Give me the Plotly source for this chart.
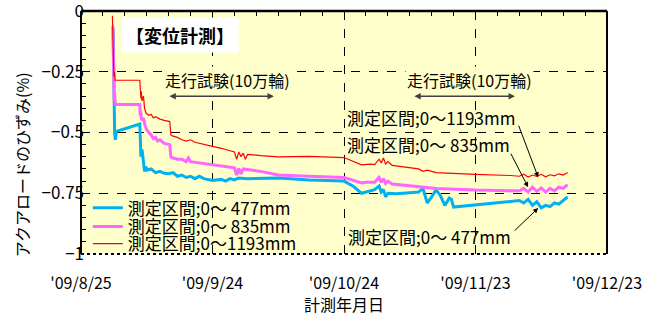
import plotly.graph_objects as go

FONT = "Noto Sans CJK JP"

# ---------------- data ----------------
blue_name = "測定区間;0〜 477mm"
pink_name = "測定区間;0〜 835mm"
red_name = "測定区間;0〜1193mm"

blue_x = ["2009-09-01 08:00", "2009-09-01 12:00", "2009-09-01 16:00", "2009-09-01 20:00", "2009-09-02 02:00",
          "2009-09-07 10:00", "2009-09-07 12:00", "2009-09-07 14:00", "2009-09-07 16:00", "2009-09-07 22:00",
          "2009-09-08 06:00", "2009-09-08 12:00", "2009-09-08 20:00", "2009-09-09", "2009-09-10",
          "2009-09-11", "2009-09-12", "2009-09-13", "2009-09-14", "2009-09-15", "2009-09-16", "2009-09-17",
          "2009-09-18", "2009-09-19", "2009-09-20", "2009-09-21", "2009-09-22", "2009-09-23", "2009-09-24",
          "2009-09-26", "2009-09-27", "2009-09-28", "2009-09-29", "2009-09-30", "2009-10-02", "2009-10-09",
          "2009-10-16", "2009-10-24", "2009-10-26", "2009-10-28", "2009-10-29", "2009-10-30", "2009-10-31",
          "2009-11-01", "2009-11-01 12:00", "2009-11-02", "2009-11-02 12:00", "2009-11-03", "2009-11-05",
          "2009-11-08", "2009-11-10", "2009-11-11", "2009-11-11 12:00", "2009-11-12", "2009-11-13",
          "2009-11-14", "2009-11-15", "2009-11-16", "2009-11-17", "2009-11-17 12:00", "2009-11-18",
          "2009-12-03", "2009-12-04", "2009-12-05", "2009-12-06", "2009-12-07", "2009-12-08", "2009-12-09",
          "2009-12-10", "2009-12-11", "2009-12-12", "2009-12-13", "2009-12-14"]
blue_y = [-0.07, -0.35, -0.50, -0.53, -0.495,
          -0.465, -0.58, -0.52, -0.60, -0.57,
          -0.62, -0.66, -0.64, -0.655, -0.65,
          -0.665, -0.66, -0.668, -0.67, -0.665, -0.68, -0.675,
          -0.685, -0.68, -0.69, -0.68, -0.69, -0.695, -0.697,
          -0.693, -0.70, -0.69, -0.695, -0.687, -0.69, -0.687,
          -0.695, -0.70, -0.72, -0.75, -0.745, -0.74, -0.735,
          -0.72, -0.745, -0.735, -0.765, -0.75, -0.752,
          -0.748, -0.745, -0.73, -0.76, -0.79, -0.765,
          -0.735, -0.76, -0.80, -0.77, -0.775, -0.807,
          -0.78, -0.79, -0.775, -0.80, -0.785, -0.81, -0.80,
          -0.805, -0.79, -0.795, -0.78, -0.765]

pink_x = ["2009-09-01 06:00", "2009-09-01 10:00", "2009-09-01 14:00", "2009-09-01 16:00", "2009-09-01 20:00",
          "2009-09-07 10:00", "2009-09-07 12:00", "2009-09-07 14:00", "2009-09-07 20:00", "2009-09-08 06:00",
          "2009-09-08 14:00", "2009-09-09", "2009-09-09 12:00", "2009-09-10", "2009-09-10 12:00",
          "2009-09-11", "2009-09-11 12:00", "2009-09-12", "2009-09-13", "2009-09-14 06:00",
          "2009-09-14 12:00", "2009-09-15", "2009-09-16", "2009-09-17", "2009-09-18", "2009-09-18 12:00",
          "2009-09-19", "2009-09-21", "2009-09-24", "2009-09-27", "2009-09-29", "2009-09-29 12:00",
          "2009-09-30", "2009-09-30 12:00", "2009-10-01", "2009-10-05", "2009-10-09", "2009-10-16",
          "2009-10-24", "2009-10-28", "2009-10-29", "2009-10-31", "2009-11-01", "2009-11-01 12:00",
          "2009-11-02", "2009-11-02 12:00", "2009-11-03", "2009-11-04", "2009-11-06", "2009-11-08",
          "2009-11-10", "2009-11-14", "2009-11-23", "2009-12-03", "2009-12-04", "2009-12-05",
          "2009-12-06", "2009-12-07", "2009-12-08", "2009-12-09", "2009-12-10", "2009-12-11",
          "2009-12-12", "2009-12-13", "2009-12-14"]
pink_y = [-0.06, -0.30, -0.37, -0.34, -0.385,
          -0.385, -0.43, -0.41, -0.45, -0.44,
          -0.47, -0.49, -0.50, -0.51, -0.525,
          -0.52, -0.535, -0.53, -0.545, -0.55,
          -0.60, -0.605, -0.61, -0.61, -0.62, -0.605,
          -0.62, -0.625, -0.63, -0.64, -0.645, -0.675,
          -0.648, -0.67, -0.65, -0.66, -0.675, -0.68,
          -0.685, -0.708, -0.705, -0.705, -0.685, -0.705,
          -0.69, -0.71, -0.70, -0.712, -0.715, -0.72,
          -0.722, -0.73, -0.737, -0.74, -0.73, -0.745,
          -0.725, -0.742, -0.728, -0.745, -0.73, -0.74,
          -0.725, -0.73, -0.715]

red_x = ["2009-09-01 04:00", "2009-09-01 08:00", "2009-09-01 12:00", "2009-09-01 15:00", "2009-09-01 19:00",
         "2009-09-07 10:00", "2009-09-07 12:00", "2009-09-07 14:00", "2009-09-07 16:00", "2009-09-07 18:00",
         "2009-09-07 22:00", "2009-09-08 06:00", "2009-09-08 12:00", "2009-09-08 20:00", "2009-09-09 12:00",
         "2009-09-10", "2009-09-10 12:00", "2009-09-11", "2009-09-12", "2009-09-13", "2009-09-14 06:00",
         "2009-09-14 12:00", "2009-09-15", "2009-09-16", "2009-09-17", "2009-09-18", "2009-09-19",
         "2009-09-20", "2009-09-22", "2009-09-24", "2009-09-26", "2009-09-28", "2009-09-29",
         "2009-09-29 12:00", "2009-09-30", "2009-09-30 12:00", "2009-10-01", "2009-10-01 12:00",
         "2009-10-02", "2009-10-05", "2009-10-09", "2009-10-16", "2009-10-24", "2009-10-28",
         "2009-10-30", "2009-10-31", "2009-11-01", "2009-11-01 12:00", "2009-11-02", "2009-11-02 12:00",
         "2009-11-03", "2009-11-04", "2009-11-06", "2009-11-08", "2009-11-10", "2009-11-11",
         "2009-11-12", "2009-11-14", "2009-11-16", "2009-11-23", "2009-12-01", "2009-12-03",
         "2009-12-04", "2009-12-05", "2009-12-06", "2009-12-07", "2009-12-08", "2009-12-09",
         "2009-12-10", "2009-12-11", "2009-12-12", "2009-12-13", "2009-12-14"]
red_y = [-0.02, -0.20, -0.27, -0.25, -0.285,
         -0.285, -0.34, -0.32, -0.36, -0.33,
         -0.37, -0.35, -0.40, -0.42, -0.43,
         -0.425, -0.44, -0.435, -0.445, -0.45, -0.455,
         -0.51, -0.515, -0.52, -0.53, -0.535, -0.53,
         -0.54, -0.55, -0.557, -0.565, -0.575, -0.58,
         -0.61, -0.58, -0.60, -0.585, -0.61,
         -0.59, -0.595, -0.60, -0.598, -0.603, -0.633,
         -0.63, -0.632, -0.61, -0.625, -0.605, -0.63,
         -0.62, -0.635, -0.64, -0.645, -0.65, -0.66,
         -0.655, -0.665, -0.667, -0.672, -0.677, -0.68,
         -0.672, -0.683, -0.675, -0.68, -0.672, -0.682,
         -0.674, -0.678, -0.67, -0.675, -0.665]

x_tickvals = ["2009-08-25", "2009-09-24", "2009-10-24", "2009-11-23", "2009-12-23"]
x_ticktext = ["'09/8/25", "'09/9/24", "'09/10/24", "'09/11/23", "'09/12/23"]
y_range = [-1, 0]
y_tick_step = 0.25

# ---------------- figure ----------------
fig = go.Figure()
fig.add_trace(go.Scatter(x=blue_x, y=blue_y, mode="lines", name=blue_name, legend="legend",
                         line=dict(color="#00B0F0", width=3)))
fig.add_trace(go.Scatter(x=pink_x, y=pink_y, mode="lines", name=pink_name, legend="legend2",
                         line=dict(color="#FF66FF", width=3)))
fig.add_trace(go.Scatter(x=red_x, y=red_y, mode="lines", name=red_name, legend="legend3",
                         line=dict(color="#FF0000", width=1.2)))
# invisible trace to carry top axis ticks
fig.add_trace(go.Scatter(x=["2009-08-25", "2009-12-23"], y=[None, None], xaxis="x2",
                         showlegend=False, hoverinfo="skip"))

def leg(yc):
    return dict(x=0.013, y=yc, xanchor="left", yanchor="middle",
                bgcolor="rgba(0,0,0,0)", borderwidth=0,
                font=dict(size=17, family=FONT), itemwidth=30)

fig.update_layout(
    width=658, height=315,
    margin=dict(l=81, r=51, t=11, b=61, autoexpand=False),
    paper_bgcolor="white", plot_bgcolor="#FFFFCC",
    font=dict(family=FONT, size=16, color="black"),
    showlegend=True,
    legend=leg(0.188), legend2=leg(0.111), legend3=leg(0.041),
    xaxis=dict(type="date", range=["2009-08-25", "2009-12-23"],
               tickvals=x_tickvals, ticktext=x_ticktext, ticks="",
               ticklabelstandoff=18,
               showgrid=True, gridcolor="black", griddash="dash", gridwidth=1,
               showline=False, zeroline=False, tickfont=dict(size=16)),
    xaxis2=dict(type="date", overlaying="x", side="top", range=["2009-08-25", "2009-12-23"],
                tick0="2009-08-25", dtick=5 * 86400000, ticks="inside", ticklen=5,
                tickcolor="black", showticklabels=False, showgrid=False, zeroline=False),
    yaxis=dict(range=y_range, tickmode="linear", tick0=0, dtick=y_tick_step,
               ticks="inside", ticklen=5, tickcolor="black",
               ticklabeloverflow="allow", ticklabelstandoff=-4,
               minor=dict(dtick=0.05, ticks="inside", ticklen=5, tickcolor="black", showgrid=False),
               showgrid=True, gridcolor="black", griddash="dash", gridwidth=1,
               showline=False, zeroline=False, tickfont=dict(size=17)),
)

# frame
fig.add_shape(type="line", xref="paper", yref="paper", x0=0, x1=0, y0=0, y1=1,
              line=dict(color="black", width=2))
fig.add_shape(type="line", xref="paper", yref="paper", x0=0, x1=1, y0=1, y1=1,
              line=dict(color="black", width=2.5))
fig.add_shape(type="line", xref="paper", yref="paper", x0=1, x1=1, y0=0, y1=1,
              line=dict(color="black", width=2))
fig.add_shape(type="line", xref="paper", yref="paper", x0=0, x1=1, y0=0, y1=0,
              line=dict(color="black", width=2, dash="dot"))

ann = []
# title box
ann.append(dict(text="<b>【変位計測】</b>", xref="paper", yref="paper", x=0.188, y=0.9,
                showarrow=False, bgcolor="white", font=dict(size=18), borderpad=4,
                xanchor="center", yanchor="middle"))
# running test labels
for xc in (0.2785, 0.7386):
    ann.append(dict(text="走行試験(10万輪)", xref="paper", yref="paper", x=xc, y=0.716,
                    showarrow=False, bgcolor="#FFFFCC", font=dict(size=16),
                    xanchor="center", yanchor="middle"))
# double-headed arrows
for x0, x1 in (("2009-09-13 20:00", "2009-10-08 00:00"), ("2009-11-08 17:00", "2009-12-02 00:00")):
    ann.append(dict(text="", x=x1, y=-0.351, ax=x0, ay=-0.351, axref="x", ayref="y",
                    showarrow=True, arrowhead=2, startarrowhead=2, arrowside="end+start",
                    arrowsize=0.8, startarrowsize=0.8, arrowwidth=1.6, arrowcolor="#404040"))
# series labels
ann.append(dict(text=red_name, xref="paper", yref="paper", x=0.502, y=0.56,
                showarrow=False, xanchor="left", yanchor="middle", font=dict(size=17)))
ann.append(dict(text=pink_name, xref="paper", yref="paper", x=0.502, y=0.449,
                showarrow=False, xanchor="left", yanchor="middle", font=dict(size=17)))
ann.append(dict(text=blue_name, xref="paper", yref="paper", x=0.504, y=0.07,
                showarrow=False, xanchor="left", yanchor="middle", font=dict(size=17)))
# pointer arrows
ann.append(dict(text="", x="2009-12-07 07:00", y=-0.684, ax=-20, ay=-53,
                showarrow=True, arrowhead=2, arrowsize=1, arrowwidth=1, arrowcolor="black"))
ann.append(dict(text="", x="2009-12-05 00:00", y=-0.725, ax=-18, ay=-35,
                showarrow=True, arrowhead=2, arrowsize=1, arrowwidth=1, arrowcolor="black"))
ann.append(dict(text="", x="2009-12-07 07:00", y=-0.811, ax=-25, ay=24,
                showarrow=True, arrowhead=2, arrowsize=1, arrowwidth=1, arrowcolor="black"))
# axis titles
ann.append(dict(text="アクアロードのひずみ(%)", xref="paper", yref="paper", x=-0.112, y=0.366,
                showarrow=False, textangle=-90, xanchor="center", yanchor="middle",
                font=dict(size=16)))
ann.append(dict(text="計測年月日", xref="paper", yref="paper", x=0.5, y=-0.205,
                showarrow=False, xanchor="center", yanchor="middle", font=dict(size=16)))
fig.update_layout(annotations=ann)

fig.write_html("out.html", config={"displayModeBar": False},
               post_script="document.body.style.margin='0';")
